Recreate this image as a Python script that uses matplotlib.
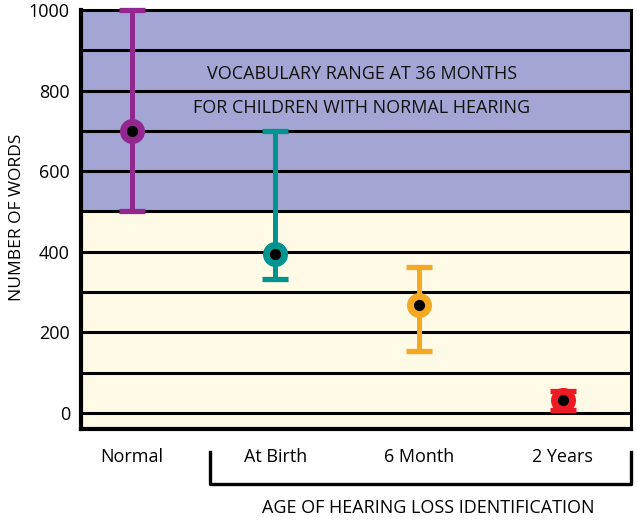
import matplotlib
matplotlib.use("Agg")
import matplotlib.pyplot as plt
from matplotlib.lines import Line2D

plt.rcParams['font.family'] = ['Open Sans', 'DejaVu Sans']

categories = ["Normal", "At Birth", "6 Month", "2 Years"]
centers = [700, 395, 268, 32]
lows = [500, 332, 154, 7]
highs = [1000, 700, 362, 55]
colors = ["#92278f", "#009490", "#f7a823", "#ed1c24"]
yticks = [0, 200, 400, 600, 800, 1000]
gridvals = [0, 100, 200, 300, 400, 500, 600, 700, 800, 900]

fig = plt.figure(figsize=(6.37, 5.2), dpi=100)
ax = fig.add_axes([81/637, 91/520, 550/637, 419/520])
ax.set_xlim(-0.355, 3.477)
ax.set_ylim(-40, 1000)

ax.axhspan(-40, 500, color="#fffae6", zorder=0)
ax.axhspan(500, 1000, color="#a3a6d4", zorder=0)
for g in gridvals:
    ax.axhline(g, color="black", lw=2.2, zorder=1)

for i, (c, lo, hi, col) in enumerate(zip(centers, lows, highs, colors)):
    _, caps, bars = ax.errorbar([i], [c], yerr=[[c - lo], [hi - c]], fmt='none', ecolor=col,
                                elinewidth=3.6, capsize=9.5, capthick=3.8, zorder=3)
    for a in list(caps) + list(bars):
        a.set_clip_on(False)
    ax.plot([i], [c], 'o', color=col, markersize=17, zorder=4)
    ax.plot([i], [c], 'o', color="black", markersize=7, zorder=5)

ax.text(1.6, 840, "VOCABULARY RANGE AT 36 MONTHS", ha="center", va="center",
        fontsize=13, color="#111111", zorder=2)
ax.text(1.6, 757, "FOR CHILDREN WITH NORMAL HEARING", ha="center", va="center",
        fontsize=13, color="#111111", zorder=2)

ax.set_xticks(range(len(categories)))
ax.set_xticklabels(categories, fontsize=13)
ax.set_yticks(yticks)
ax.set_yticklabels([str(v) for v in yticks], fontsize=13)
ax.tick_params(axis='both', length=0)
ax.tick_params(axis='x', pad=14)
ax.tick_params(axis='y', pad=8)
ax.set_ylabel("NUMBER OF WORDS", fontsize=12.5)
ax.yaxis.set_label_coords(-56/550, 0.505)

for side in ["left", "bottom"]:
    ax.spines[side].set_linewidth(3)
for side in ["top", "right"]:
    ax.spines[side].set_linewidth(2.2)

# bracket under the hearing-loss groups
xl, xr = 210/637, 631/637
yt, yb = (520-452)/520, (520-484)/520
fig.add_artist(Line2D([xl, xl, xr, xr], [yt, yb, yb, yt], transform=fig.transFigure,
                      color="black", lw=2.4))
fig.text(428/637, (520-508)/520, "AGE OF HEARING LOSS IDENTIFICATION",
         ha="center", va="center", fontsize=13)

fig.savefig("out.png", dpi=100)
